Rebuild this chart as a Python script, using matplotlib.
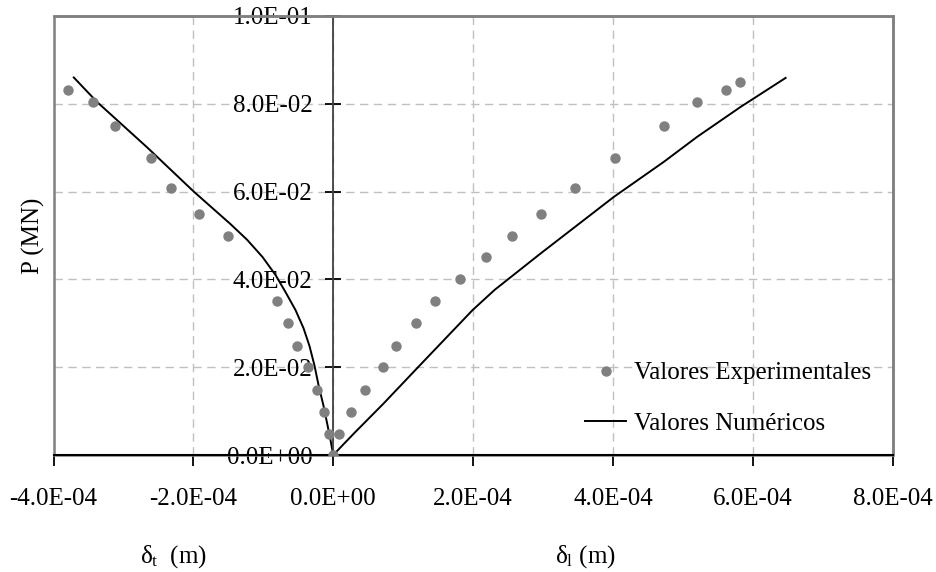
import numpy as np
import matplotlib
matplotlib.use('Agg')
import matplotlib.pyplot as plt
from matplotlib.ticker import FuncFormatter, MultipleLocator
from matplotlib.patches import Rectangle

plt.rcParams['font.family'] = ['Liberation Serif', 'DejaVu Serif']
plt.rcParams['mathtext.fontset'] = 'custom'
plt.rcParams['mathtext.rm'] = 'Liberation Serif'
plt.rcParams['mathtext.it'] = 'Liberation Serif:italic'

#### experimental values ####
# delta_t branch (negative displacement)
exp_dt = [-3.79e-4, -3.43e-4, -3.12e-4, -2.61e-4, -2.32e-4, -1.92e-4, -1.50e-4,
          -8.1e-5, -6.4e-5, -5.2e-5, -3.6e-5, -2.3e-5, -1.3e-5, -6.4e-6, 0.0]
exp_pt = [0.0831, 0.0804, 0.0749, 0.0677, 0.0608, 0.0550, 0.0500,
          0.0351, 0.0301, 0.0248, 0.0201, 0.0148, 0.0098, 0.0048, 0.0]
# delta_l branch (positive displacement)
exp_dl = [8.3e-6, 2.50e-5, 4.51e-5, 7.12e-5, 8.98e-5, 1.189e-4, 1.456e-4, 1.818e-4,
          2.181e-4, 2.562e-4, 2.972e-4, 3.454e-4, 4.031e-4, 4.727e-4, 5.208e-4,
          5.618e-4, 5.814e-4]
exp_pl = [0.0048, 0.0098, 0.0148, 0.0201, 0.0248, 0.0301, 0.0351, 0.0402,
          0.0450, 0.0500, 0.0550, 0.0608, 0.0677, 0.0749, 0.0804, 0.0831, 0.0850]

#### numerical values ####
num_dt = [0.0, -3.9e-6, -8.2e-6, -1.39e-5, -2.10e-5, -2.67e-5, -3.39e-5, -4.25e-5,
          -5.39e-5, -6.82e-5, -8.25e-5, -1.011e-4, -1.230e-4, -1.469e-4,
          -1.994e-4, -2.656e-4, -3.376e-4, -3.71e-4]
num_pt = [0.0, 0.0034, 0.0068, 0.0112, 0.0159, 0.0203, 0.0248, 0.0289,
          0.0330, 0.0371, 0.0410, 0.0451, 0.0490, 0.0526,
          0.0600, 0.0700, 0.0804, 0.0860]
num_dl = [0.0, 2.95e-5, 7.24e-5, 1.201e-4, 1.992e-4, 2.307e-4, 2.965e-4,
          4.013e-4, 4.729e-4, 5.206e-4, 5.826e-4, 6.469e-4]
num_pl = [0.0, 0.0049, 0.0118, 0.0198, 0.0330, 0.0376, 0.0459,
          0.0588, 0.0668, 0.0725, 0.0793, 0.0859]

fig = plt.figure(figsize=(9.36, 5.72), dpi=100)
ax = fig.add_axes([53.5/936, 1-455/572, (892.7-53.5)/936, (455-16)/572])

# numerical curves
ax.plot(num_dt, num_pt, color='black', lw=1.4, zorder=2, label='Valores Numéricos')
ax.plot(num_dl, num_pl, color='black', lw=1.4, zorder=2)
# experimental points
ax.plot(exp_dt, exp_pt, 'o', color='#808080', ms=7.5, mec='none', zorder=3,
        label='Valores Experimentales')
ax.plot(exp_dl, exp_pl, 'o', color='#808080', ms=7.5, mec='none', zorder=3)

ax.set_xlim(-4e-4, 8e-4)
ax.set_ylim(0, 0.1)
ax.xaxis.set_major_locator(MultipleLocator(2e-4))
ax.yaxis.set_major_locator(MultipleLocator(0.02))
fmt = FuncFormatter(lambda v, p: '%.1E' % v)
ax.xaxis.set_major_formatter(fmt)
ax.yaxis.set_major_formatter(fmt)

ax.grid(True, color='#c0c0c0', lw=1, linestyle=(0, (6, 4)))

# frame
for s in ['top', 'right']:
    ax.spines[s].set_color('#808080')
    ax.spines[s].set_linewidth(1.8)
ax.spines['left'].set_position(('data', 0))
ax.spines['left'].set_color('#404040')
ax.spines['left'].set_linewidth(1.3)
ax.spines['bottom'].set_color('black')
ax.spines['bottom'].set_linewidth(1.5)
ax.spines['bottom'].set_zorder(2.7)
ax.add_patch(Rectangle((0, 0), 1, 1, transform=ax.transAxes, fill=False,
                       ec='#808080', lw=1.8, clip_on=False, zorder=2.4))

ax.tick_params(axis='y', direction='inout', length=12, width=1.3, color='black',
               pad=9, labelsize=18)
ax.tick_params(axis='x', direction='out', length=8, width=1.3, color='black',
               pad=16, labelsize=18)

ax.set_ylabel('P (MN)', fontsize=18)
ax.yaxis.set_label_coords(45/936, 1-236/572, transform=fig.transFigure)

fig.text(173/936, 1-557/572, 'δ$_\\mathrm{t}$  (m)', fontsize=18, ha='center', va='center')
fig.text(585/936, 1-557/572, 'δ$_\\mathrm{l}$ (m)', fontsize=18, ha='center', va='center')

handles, labels = ax.get_legend_handles_labels()
ax.legend(handles[::-1], labels[::-1], loc='upper left', frameon=False, fontsize=18,
          bbox_to_anchor=(585/936, 1-362/572), bbox_transform=fig.transFigure,
          borderpad=0, borderaxespad=0, handlelength=1.65, handletextpad=0.3,
          labelspacing=1.12)

fig.savefig('out.png', dpi=100)
